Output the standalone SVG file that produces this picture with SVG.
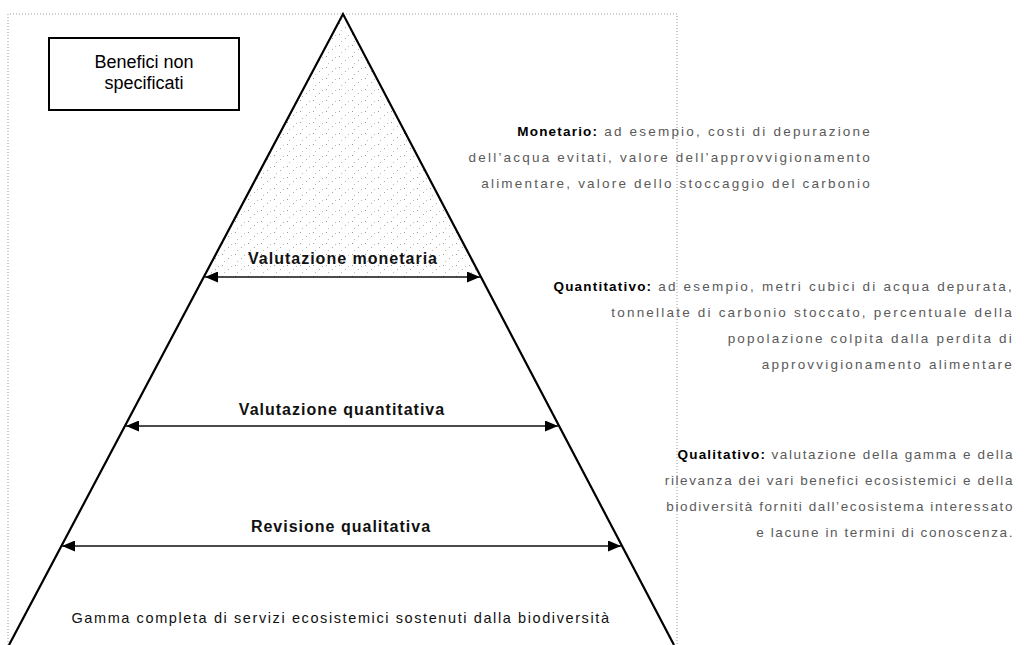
<svg xmlns="http://www.w3.org/2000/svg" width="1028" height="645" viewBox="0 0 1028 645">
  <style>
    .frame { fill: none; stroke: #9a9a9a; stroke-width: 1; stroke-dasharray: 1 2; }
    .edge { fill: none; stroke: #000; stroke-width: 2.2; }
    .arr { fill: none; stroke: #111; stroke-width: 1.6; marker-start: url(#ah); marker-end: url(#ah); }
    .lbl { font-family: "Liberation Sans", Arial, sans-serif; font-weight: bold; font-size: 16px; fill: #111; text-anchor: middle; letter-spacing: 1px; }
    .base { font-family: "Liberation Sans", Arial, sans-serif; font-size: 14.5px; fill: #111; text-anchor: middle; letter-spacing: 1.6px; }
    .box { fill: #fff; stroke: #000; stroke-width: 2; }
    .boxt { font-family: "Liberation Sans", Arial, sans-serif; font-size: 18px; fill: #000; text-anchor: middle; }
    .desc { font-family: "Liberation Sans", Arial, sans-serif; font-size: 13.5px; fill: #5a5a5a; text-anchor: end; letter-spacing: 2.2px; }
    .desc tspan.b { font-weight: bold; fill: #000; letter-spacing: 1.2px; }
    .ql { letter-spacing: 1.6px; }
  </style>
  <defs>
    <marker id="ah" viewBox="0 0 13 11" refX="13" refY="5.5" markerWidth="13" markerHeight="11" markerUnits="userSpaceOnUse" orient="auto-start-reverse">
      <path d="M0,0 L13,5.5 L0,11 Z" fill="#000"/>
    </marker>
    <pattern id="stip" width="13" height="11" patternUnits="userSpaceOnUse">
      <rect x="1" y="1" width="1" height="1" fill="#999"/>
      <rect x="7" y="5" width="1" height="1" fill="#aaa"/>
      <rect x="3" y="8" width="1" height="1" fill="#bbb"/>
      <rect x="10" y="2" width="1" height="1" fill="#bbb"/>
    </pattern>
    <clipPath id="topclip">
      <polygon points="343,14 204,277 481,277"/>
    </clipPath>
  </defs>

  <rect width="1028" height="645" fill="#fff"/>

  <g id="frame">
    <polyline class="frame" points="8,645 8,14 677,14 677,645"/>
  </g>

  <g id="pyramid">
    <rect x="200" y="14" width="290" height="270" fill="url(#stip)" clip-path="url(#topclip)"/>
    <polyline class="edge" points="9,645 343,14 674,645"/>
  </g>

  <g id="box-benefici">
    <rect class="box" x="49" y="38" width="190" height="72"/>
    <text class="boxt" x="144" y="68">Benefici non</text>
    <text class="boxt" x="144" y="89">specificati</text>
  </g>

  <g id="connectors">
    <line class="arr" x1="205" y1="277" x2="480" y2="277"/>
    <line class="arr" x1="126" y1="426" x2="558" y2="426"/>
    <line class="arr" x1="62" y1="546" x2="621" y2="546"/>
  </g>

  <g id="level-monetaria">
    <text class="lbl" x="343" y="264">Valutazione monetaria</text>
  </g>
  <g id="level-quantitativa">
    <text class="lbl" x="342" y="415">Valutazione quantitativa</text>
  </g>
  <g id="level-qualitativa">
    <text class="lbl" x="341" y="532">Revisione qualitativa</text>
  </g>
  <g id="level-base">
    <text class="base" x="341" y="623">Gamma completa di servizi ecosistemici sostenuti dalla biodiversità</text>
  </g>

  <g id="desc-monetario">
    <text class="desc" x="872" y="136"><tspan class="b">Monetario:</tspan> ad esempio, costi di depurazione</text>
    <text class="desc" x="872" y="162">dell’acqua evitati, valore dell’approvvigionamento</text>
    <text class="desc" x="872" y="188">alimentare, valore dello stoccaggio del carbonio</text>
  </g>

  <g id="desc-quantitativo">
    <text class="desc" x="1014" y="291"><tspan class="b">Quantitativo:</tspan> ad esempio, metri cubici di acqua depurata,</text>
    <text class="desc" x="1014" y="317">tonnellate di carbonio stoccato, percentuale della</text>
    <text class="desc" x="1014" y="343">popolazione colpita dalla perdita di</text>
    <text class="desc" x="1014" y="369">approvvigionamento alimentare</text>
  </g>

  <g id="desc-qualitativo">
    <text class="desc ql" x="1014" y="459"><tspan class="b">Qualitativo:</tspan> valutazione della gamma e della</text>
    <text class="desc ql" x="1014" y="485">rilevanza dei vari benefici ecosistemici e della</text>
    <text class="desc ql" x="1014" y="511">biodiversità forniti dall’ecosistema interessato</text>
    <text class="desc ql" x="1014" y="537">e lacune in termini di conoscenza.</text>
  </g>
</svg>
